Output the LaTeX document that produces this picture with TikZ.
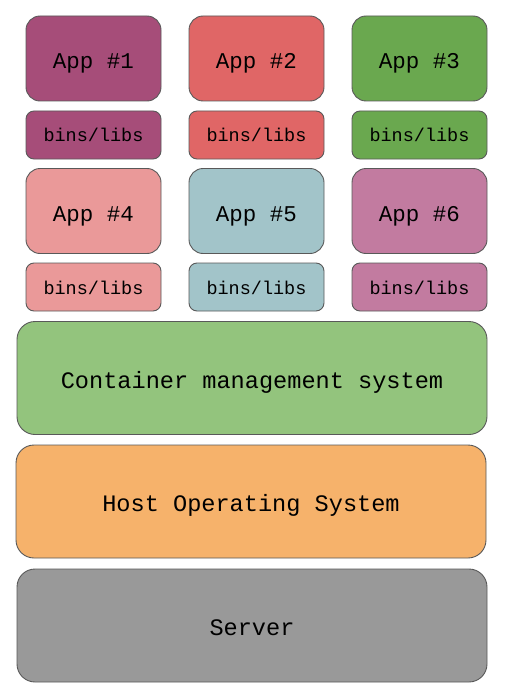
\documentclass[tikz,border=0pt]{standalone}
\usepackage{fontspec}
\setmonofont{Liberation Mono}
\definecolor{appone}{HTML}{A64D79}
\definecolor{apptwo}{HTML}{E06666}
\definecolor{appthree}{HTML}{6AA84F}
\definecolor{appfour}{HTML}{EA9999}
\definecolor{appfive}{HTML}{A2C4C9}
\definecolor{appsix}{HTML}{C27BA0}
\definecolor{cms}{HTML}{93C47D}
\definecolor{hostos}{HTML}{F6B26B}
\definecolor{server}{HTML}{999999}
\definecolor{edge}{HTML}{595959}
\begin{document}
\begin{tikzpicture}[x=1pt,y=-1pt]

      \useasboundingbox (0,0) rectangle (512,698);

      \tikzset{
        layer/.style={draw=edge,line width=0.9pt,inner sep=0pt,text depth=0pt,font=\ttfamily},
        app/.style={layer,rounded corners=14pt,minimum width=135pt,minimum height=85pt,text height=20.7pt,font=\ttfamily\fontsize{22.5}{26}\selectfont},
        libs/.style={layer,rounded corners=8pt,minimum width=135pt,minimum height=48pt,text height=14pt,font=\ttfamily\fontsize{18.5}{22}\selectfont},
        base/.style={layer,rounded corners=18pt,minimum width=470pt,minimum height=113pt,text height=20.3pt,font=\ttfamily\fontsize{23.6}{28}\selectfont}
      }

      \begin{scope}[every node/.style={app}]
        \node[fill=appone]   (a1) at (93.5,58.5)  {App \#1};
        \node[fill=apptwo]   (a2) at (256.5,58.5) {App \#2};
        \node[fill=appthree] (a3) at (419.5,58.5) {App \#3};
        \node[fill=appfour]  (a4) at (93.5,211)   {App \#4};
        \node[fill=appfive]  (a5) at (256.5,211)  {App \#5};
        \node[fill=appsix]   (a6) at (419.5,211)  {App \#6};
      \end{scope}

      \begin{scope}[every node/.style={libs}]
        \node[fill=appone]   (l1) at (93.5,135)  {bins/libs};
        \node[fill=apptwo]   (l2) at (256.5,135) {bins/libs};
        \node[fill=appthree] (l3) at (419.5,135) {bins/libs};
        \node[fill=appfour]  (l4) at (93.5,287)  {bins/libs};
        \node[fill=appfive]  (l5) at (256.5,287) {bins/libs};
        \node[fill=appsix]   (l6) at (419.5,287) {bins/libs};
      \end{scope}

      \begin{scope}[every node/.style={base}]
        \node[fill=cms]    (cms)  at (252,378)   {Container management system};
        \node[fill=hostos] (host) at (251,501.5) {Host Operating System};
        \node[fill=server] (srv)  at (252,625.5) {Server};
      \end{scope}

    \end{tikzpicture}
\end{document}
